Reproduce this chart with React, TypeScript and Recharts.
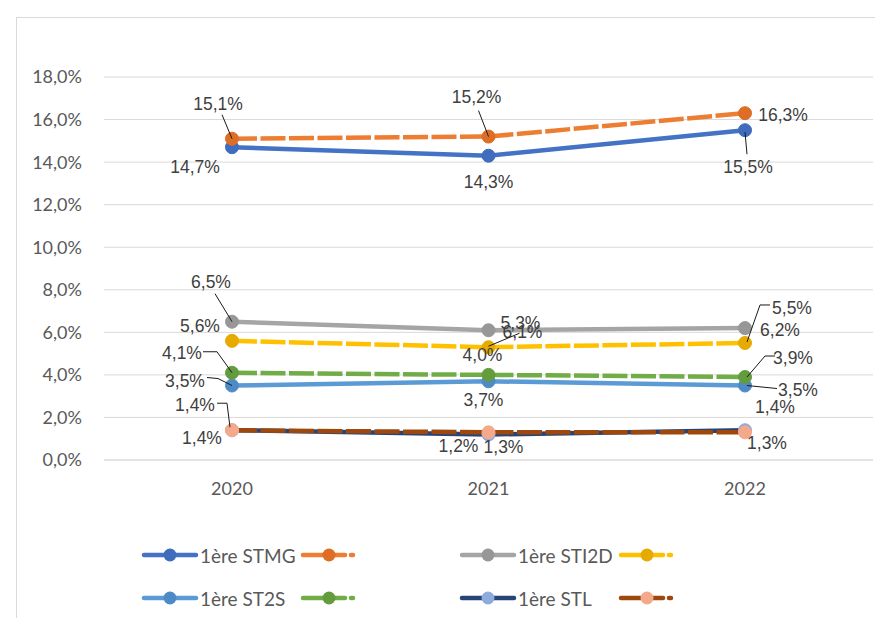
import React from 'react';
import { LineChart, Line, XAxis, YAxis, CartesianGrid, LabelList, Legend } from 'recharts';

const years = ['2020', '2021', '2022'];
const stmg = [14.7, 14.3, 15.5];
const stmgB = [15.1, 15.2, 16.3];
const sti2d = [6.5, 6.1, 6.2];
const sti2dB = [5.6, 5.3, 5.5];
const st2s = [3.5, 3.7, 3.5];
const st2sB = [4.1, 4.0, 3.9];
const stl = [1.4, 1.2, 1.4];
const stlB = [1.4, 1.3, 1.3];
const yTicks = [0, 2, 4, 6, 8, 10, 12, 14, 16, 18];
const legendNames = ['1ère STMG', '', '1ère STI2D', '', '1ère ST2S', '', '1ère STL', ''];

const data = years.map((y, i) => ({
  year: y,
  stmg: stmg[i], stmgB: stmgB[i],
  sti2d: sti2d[i], sti2dB: sti2dB[i],
  st2s: st2s[i], st2sB: st2sB[i],
  stl: stl[i], stlB: stlB[i],
}));

type LCfg = { dx: number; dy: number; leader?: number[][] };

const series = [
  { key: 'stmg', line: '#4472C4', marker: '#3F6CBD', dash: undefined,
    labels: [{ dx: -37, dy: 20 }, { dx: 0, dy: 26 }, { dx: 3, dy: 37, leader: [[0, 2], [2, 24]] }] as LCfg[] },
  { key: 'stmgB', line: '#ED7D31', marker: '#DE6E26', dash: '25 3.5',
    labels: [{ dx: -14, dy: -35, leader: [[-10, -24], [0, 0]] }, { dx: -12, dy: -40, leader: [[-10, -26], [0, 0]] }, { dx: 38, dy: 2 }] as LCfg[] },
  { key: 'sti2d', line: '#A5A5A5', marker: '#979797', dash: undefined,
    labels: [{ dx: -21, dy: -40, leader: [[-17, -28], [0, 0]] }, { dx: 34, dy: 2 }, { dx: 35, dy: 2 }] as LCfg[] },
  { key: 'sti2dB', line: '#FFC000', marker: '#E6AA00', dash: '25 3.5',
    labels: [{ dx: -32, dy: -15 }, { dx: 32, dy: -24, leader: [[0, -1], [31, -14]] }, { dx: 47, dy: -35, leader: [[2, -1], [15, -38], [25, -38]] }] as LCfg[] },
  { key: 'st2s', line: '#5B9BD5', marker: '#4E8BC6', dash: undefined,
    labels: [{ dx: -47, dy: -5, leader: [[-25, -8], [-14, -7], [0, 0]] }, { dx: -5, dy: 19 }, { dx: 53, dy: 4, leader: [[2, 0], [32, 3]] }] as LCfg[] },
  { key: 'st2sB', line: '#70AD47', marker: '#639C3D', dash: '25 3.5',
    labels: [{ dx: -50, dy: -20, leader: [[-29, -21], [-15, -21], [0, 0]] }, { dx: -6, dy: -20 }, { dx: 48, dy: -19, leader: [[2, 0], [20, -21], [30, -21]] }] as LCfg[] },
  { key: 'stl', line: '#264478', marker: '#8FAADC', dash: undefined,
    labels: [{ dx: -30, dy: 8 }, { dx: -30, dy: 12 }, { dx: 30, dy: -23 }] as LCfg[] },
  { key: 'stlB', line: '#9E480E', marker: '#F4A98A', dash: '25 3.5',
    labels: [{ dx: -37, dy: -25, leader: [[-15, -27], [-5, -27], [-2, -3]] }, { dx: 15, dy: 15 }, { dx: 22, dy: 11 }] as LCfg[] },
];

const fmtPct = (v: number) => v.toFixed(1).replace('.', ',') + '%';

const makeLabel = (cfg: LCfg[]) => (props: any) => {
  const { x, y, index, value } = props;
  const c = cfg[index];
  if (!c || x == null || y == null) return null;
  return (
    <g>
      {c.leader && (
        <polyline
          points={c.leader.map((p) => `${x + p[0]},${y + p[1]}`).join(' ')}
          fill="none" stroke="#1a1a1a" strokeWidth={1}
        />
      )}
      <text x={x + c.dx} y={y + c.dy} textAnchor="middle" dominantBaseline="central"
        fontFamily="'Liberation Sans', Arial, sans-serif" fontSize={17.5} fill="#404040">
        {fmtPct(value)}
      </text>
    </g>
  );
};

const LegendContent = () => (
  <svg width={875} height={80} style={{ display: 'block' }}>
    {series.map((s, i) => {
      const col = i % 4;
      const row = Math.floor(i / 4);
      const x0 = 144 + col * 159;
      const cy = 20 + row * 43;
      return (
        <g key={s.key}>
          {s.dash ? (
            <g>
              <line x1={x0} y1={cy} x2={x0 + 42} y2={cy} stroke={s.line} strokeWidth={4.5} strokeLinecap="round" />
              <line x1={x0 + 48} y1={cy} x2={x0 + 50} y2={cy} stroke={s.line} strokeWidth={4.5} strokeLinecap="round" />
            </g>
          ) : (
            <line x1={x0} y1={cy} x2={x0 + 52} y2={cy} stroke={s.line} strokeWidth={4.5} strokeLinecap="round" />
          )}
          <circle cx={x0 + 26} cy={cy} r={6.5} fill={s.marker} />
          {legendNames[i] && (
            <text x={x0 + 56} y={cy} dominantBaseline="central" fontFamily="Lato, sans-serif"
              fontSize={19} fill="#595959">{legendNames[i]}</text>
          )}
        </g>
      );
    })}
  </svg>
);

export default function App() {
  return (
    <div style={{ position: 'absolute', left: 0, top: 0, width: 875, height: 618, overflow: 'hidden', background: '#fff' }}>
      <div style={{ position: 'absolute', left: 16, top: 17, width: 900, height: 700, borderLeft: '1px solid #d9d9d9', borderTop: '1px solid #d9d9d9' }} />
      <LineChart width={875} height={618} data={data} margin={{ top: 77, right: 2, bottom: 128, left: 24 }}>
        <CartesianGrid vertical={false} stroke="#d9d9d9" strokeWidth={1} />
        <XAxis dataKey="year" height={30} padding={{ left: 128, right: 128 }} tickLine={false}
          axisLine={{ stroke: '#d9d9d9' }} tickSize={0} tickMargin={22}
          tick={{ fontFamily: 'Lato, sans-serif', fontSize: 18, fill: '#595959' }} />
        <YAxis width={80} domain={[0, 18]} ticks={yTicks} axisLine={false} tickLine={false}
          tickSize={0} tickMargin={22} tickFormatter={fmtPct}
          tick={{ fontFamily: 'Lato, sans-serif', fontSize: 18, fill: '#595959' }} />
        {series.map((s) => (
          <Line key={s.key} dataKey={s.key} stroke={s.line} strokeWidth={4.5}
            strokeDasharray={s.dash} isAnimationActive={false} legendType="none"
            dot={{ r: 6.5, fill: s.marker, stroke: s.marker, strokeWidth: 1, strokeDasharray: '' }}
            activeDot={false}>
            <LabelList dataKey={s.key} content={makeLabel(s.labels)} />
          </Line>
        ))}
        <Legend layout="horizontal" verticalAlign="middle" align="center"
          wrapperStyle={{ position: 'absolute', left: 0, top: 535, width: 875, height: 80 }}
          content={() => <LegendContent />} />
      </LineChart>
    </div>
  );
}
